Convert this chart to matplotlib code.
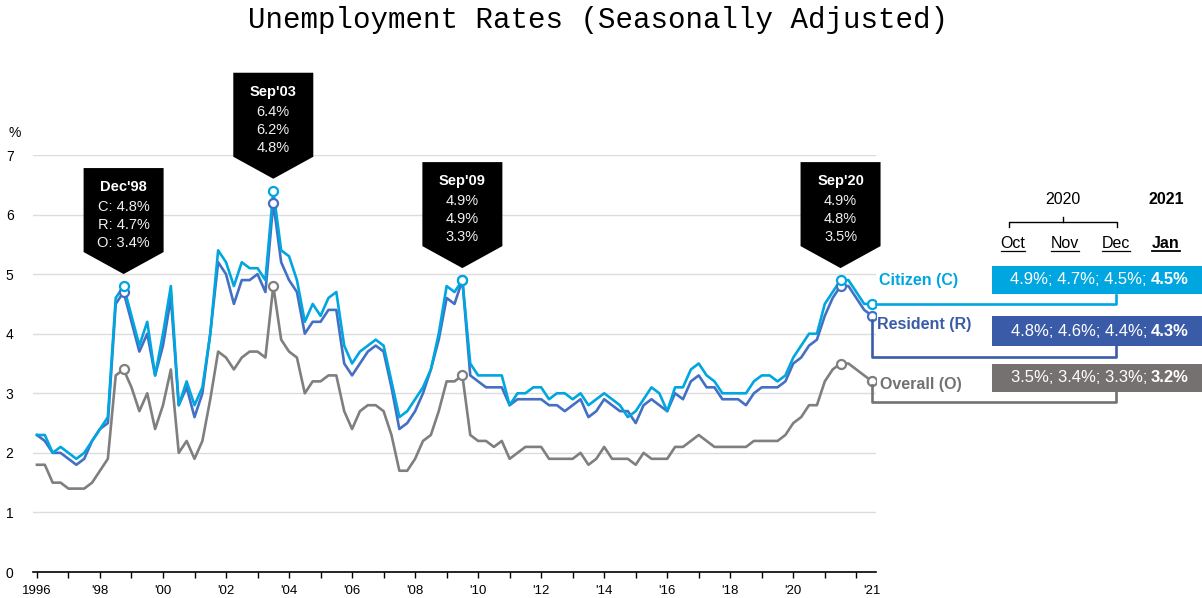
import numpy as np
import matplotlib.pyplot as plt
from matplotlib.patches import Polygon, Rectangle

plt.rcParams['font.family'] = ['Liberation Sans', 'DejaVu Sans']

# quarterly points 1996..2019, monthly through 2020 and Jan'21
citizen = [2.3, 2.3, 2.0, 2.1, 2.0, 1.9, 2.0, 2.2, 2.4, 2.6,
           4.6, 4.8, 4.3, 3.8, 4.2, 3.3, 4.0, 4.8, 2.8, 3.2,
           2.8, 3.1, 4.0, 5.4, 5.2, 4.8, 5.2, 5.1, 5.1, 4.9,
           6.4, 5.4, 5.3, 4.9, 4.2, 4.5, 4.3, 4.6, 4.7, 3.8,
           3.5, 3.7, 3.8, 3.9, 3.8, 3.2, 2.6, 2.7, 2.9, 3.1,
           3.4, 4.0, 4.8, 4.7, 4.9, 3.5, 3.3, 3.3, 3.3, 3.3,
           2.8, 3.0, 3.0, 3.1, 3.1, 2.9, 3.0, 3.0, 2.9, 3.0,
           2.8, 2.9, 3.0, 2.9, 2.8, 2.6, 2.7, 2.9, 3.1, 3.0,
           2.7, 3.1, 3.1, 3.4, 3.5, 3.3, 3.2, 3.0, 3.0, 3.0,
           3.0, 3.2, 3.3, 3.3, 3.2, 3.3, 3.6, 3.8, 4.0, 4.0,
           4.5, 4.7, 4.9, 4.9, 4.7, 4.5, 4.5]
resident = [2.3, 2.2, 2.0, 2.0, 1.9, 1.8, 1.9, 2.2, 2.4, 2.5,
            4.5, 4.7, 4.2, 3.7, 4.0, 3.3, 3.8, 4.6, 2.8, 3.1,
            2.6, 3.0, 4.0, 5.2, 5.0, 4.5, 4.9, 4.9, 5.0, 4.7,
            6.2, 5.2, 4.9, 4.7, 4.0, 4.2, 4.2, 4.4, 4.4, 3.5,
            3.3, 3.5, 3.7, 3.8, 3.7, 3.1, 2.4, 2.5, 2.7, 3.0,
            3.4, 3.9, 4.6, 4.5, 4.9, 3.3, 3.2, 3.1, 3.1, 3.1,
            2.8, 2.9, 2.9, 2.9, 2.9, 2.8, 2.8, 2.7, 2.8, 2.9,
            2.6, 2.7, 2.9, 2.8, 2.7, 2.7, 2.5, 2.8, 2.9, 2.8,
            2.7, 3.0, 2.9, 3.2, 3.3, 3.1, 3.1, 2.9, 2.9, 2.9,
            2.8, 3.0, 3.1, 3.1, 3.1, 3.2, 3.5, 3.6, 3.8, 3.9,
            4.3, 4.6, 4.8, 4.8, 4.6, 4.4, 4.3]
overall = [1.8, 1.8, 1.5, 1.5, 1.4, 1.4, 1.4, 1.5, 1.7, 1.9,
           3.3, 3.4, 3.1, 2.7, 3.0, 2.4, 2.8, 3.4, 2.0, 2.2,
           1.9, 2.2, 2.9, 3.7, 3.6, 3.4, 3.6, 3.7, 3.7, 3.6,
           4.8, 3.9, 3.7, 3.6, 3.0, 3.2, 3.2, 3.3, 3.3, 2.7,
           2.4, 2.7, 2.8, 2.8, 2.7, 2.3, 1.7, 1.7, 1.9, 2.2,
           2.3, 2.7, 3.2, 3.2, 3.3, 2.3, 2.2, 2.2, 2.1, 2.2,
           1.9, 2.0, 2.1, 2.1, 2.1, 1.9, 1.9, 1.9, 1.9, 2.0,
           1.8, 1.9, 2.1, 1.9, 1.9, 1.9, 1.8, 2.0, 1.9, 1.9,
           1.9, 2.1, 2.1, 2.2, 2.3, 2.2, 2.1, 2.1, 2.1, 2.1,
           2.1, 2.2, 2.2, 2.2, 2.2, 2.3, 2.5, 2.6, 2.8, 2.8,
           3.2, 3.4, 3.5, 3.5, 3.4, 3.3, 3.2]

year_labels = ['1996', "'98", "'00", "'02", "'04", "'06", "'08", "'10",
               "'12", "'14", "'16", "'18", "'20"]
last_label = "'21"
peak_idx = [11, 30, 54, 102]
peak_names = ["Dec'98", "Sep'03", "Sep'09", "Sep'20"]
months = ['Oct', 'Nov', 'Dec', 'Jan']

c_col = '#00a6e0'
r_col = '#4470c4'
o_col = '#7f7f7f'
c_box = '#00a6e0'
r_box = '#3a5ca8'
o_box = '#767171'

W, H = 1202, 598
fig = plt.figure(figsize=(W / 100, H / 100), dpi=100)
ax = fig.add_axes([33 / W, (H - 572) / H, (876 - 33) / W, (572 - 155) / H])
x = np.arange(len(citizen))
ax.set_xlim(-0.5, len(citizen) - 0.5)
ax.set_ylim(0, 7)

ax.plot(x, overall, color=o_col, lw=1.9, zorder=3)
ax.plot(x, resident, color=r_col, lw=1.9, zorder=4)
ax.plot(x, citizen, color=c_col, lw=1.9, zorder=5)

mk = peak_idx + [len(citizen) - 1]
for ser, col, z in [(overall, o_col, 6), (resident, r_col, 7), (citizen, c_col, 8)]:
    ax.plot(mk, [ser[i] for i in mk], 'o', ms=6.5, mfc='white', mec=col,
            mew=1.6, zorder=z)

for s in ['top', 'right', 'left']:
    ax.spines[s].set_visible(False)
ax.spines['bottom'].set_color('black')
ax.spines['bottom'].set_linewidth(1.2)
ax.set_yticks(range(0, 8))
ax.yaxis.grid(True, color='#dcdcdc', lw=1)
ax.set_axisbelow(True)
ax.tick_params(axis='y', length=0, pad=14, labelsize=10)

ticks = list(range(0, len(citizen) - 2, 4)) + [len(citizen) - 1]
labels = []
for t in ticks[:-1]:
    if t % 8 == 0 and t // 8 < len(year_labels):
        labels.append(year_labels[t // 8])
    else:
        labels.append('')
labels.append(last_label)
ax.set_xticks(ticks)
ax.set_xticklabels(labels)
ax.tick_params(axis='x', length=4, width=1, direction='out', pad=5, labelsize=9.5)
ax.xaxis.get_major_ticks()[-1].tick1line.set_visible(False)

# overlay in pixel coordinates for annotations
ov = fig.add_axes([0, 0, 1, 1], zorder=10)
ov.set_xlim(0, W)
ov.set_ylim(H, 0)
ov.axis('off')


def to_px(i, v):
    dx, dy = ax.transData.transform((i, v))
    return dx, H - dy


fig.text(0.4975, 1 - 20 / H, 'Unemployment Rates (Seasonally Adjusted)',
         family='Liberation Mono', fontsize=21, ha='center', va='center')
ov.text(15, 133, '%', ha='center', va='center', fontsize=10)

# black callouts
for k, i in enumerate(peak_idx):
    px, py = to_px(i, citizen[i])
    tip = py - 12
    bot = tip - 22
    top = bot - 84
    ov.add_patch(Polygon([(px - 40, top), (px + 40, top), (px + 40, bot),
                          (px, tip), (px - 40, bot)], closed=True,
                         fc='black', ec='none'))
    ov.text(px, top + 19, peak_names[k], color='white', fontweight='bold',
            ha='center', va='center', fontsize=10.5)
    vals = [citizen[i], resident[i], overall[i]]
    pre = ['C: ', 'R: ', 'O: '] if k == 0 else ['', '', '']
    for j, v in enumerate(vals):
        ov.text(px, top + 39 + 18 * j, f'{pre[j]}{v:.1f}%', color='#f0f0f0',
                ha='center', va='center', fontsize=10.5)

# right-hand panel
n = len(citizen) - 1
cx, cy = to_px(n, citizen[n])
rx, ry = to_px(n, resident[n])
ox, oy = to_px(n, overall[n])
ov.plot([cx + 4, 1116, 1116], [cy, cy, 295], color=c_col, lw=1.9)
ov.plot([rx, rx, 1116, 1116], [ry + 4, 357, 357, 346], color=r_box, lw=1.9)
ov.plot([ox, ox, 1116, 1116], [oy + 4, 402, 402, 392], color=o_box, lw=1.9)

ov.text(879, 281, 'Citizen (C)', color=c_col, fontweight='bold',
        fontsize=11.5, ha='left', va='center')
ov.text(877, 324, 'Resident (R)', color=r_box, fontweight='bold',
        fontsize=11.5, ha='left', va='center')
ov.text(880, 385, 'Overall (O)', color=o_box, fontweight='bold',
        fontsize=11.5, ha='left', va='center')

boxes = [(citizen, c_box, 266, 28), (resident, r_box, 316, 30),
         (overall, o_box, 364, 28)]
for ser, col, y0, h in boxes:
    ov.add_patch(Rectangle((992, y0), 210, h, fc=col, ec='none'))
    vals = ser[-4:]
    first = '; '.join(f'{v:.1f}%' for v in vals[:3]) + ';'
    ov.text(1147, y0 + h / 2, first, color='white', fontsize=12,
            ha='right', va='center')
    ov.text(1151, y0 + h / 2, f'{vals[3]:.1f}%', color='white', fontsize=12,
            fontweight='bold', ha='left', va='center')

ov.text(1063, 199, '2020', fontsize=11.5, ha='center', va='center')
ov.text(1166, 199, '2021', fontsize=11.5, fontweight='bold', ha='center', va='center')
ov.plot([1009, 1009, 1117, 1117], [227, 222, 222, 227], color='black', lw=1)
ov.plot([1063, 1063], [222, 217], color='black', lw=1)

renderer = fig.canvas.get_renderer()
for m, xm in zip(months, [1013, 1065, 1116, 1166]):
    t = ov.text(xm, 243, m, fontsize=11.5, ha='center', va='center',
                fontweight='bold' if m == 'Jan' else 'normal')
    bb = t.get_window_extent(renderer)
    ov.plot([bb.x0, bb.x1], [251, 251], color='black',
            lw=1.3 if m == 'Jan' else 0.9)

fig.savefig('out.png', dpi=100)
